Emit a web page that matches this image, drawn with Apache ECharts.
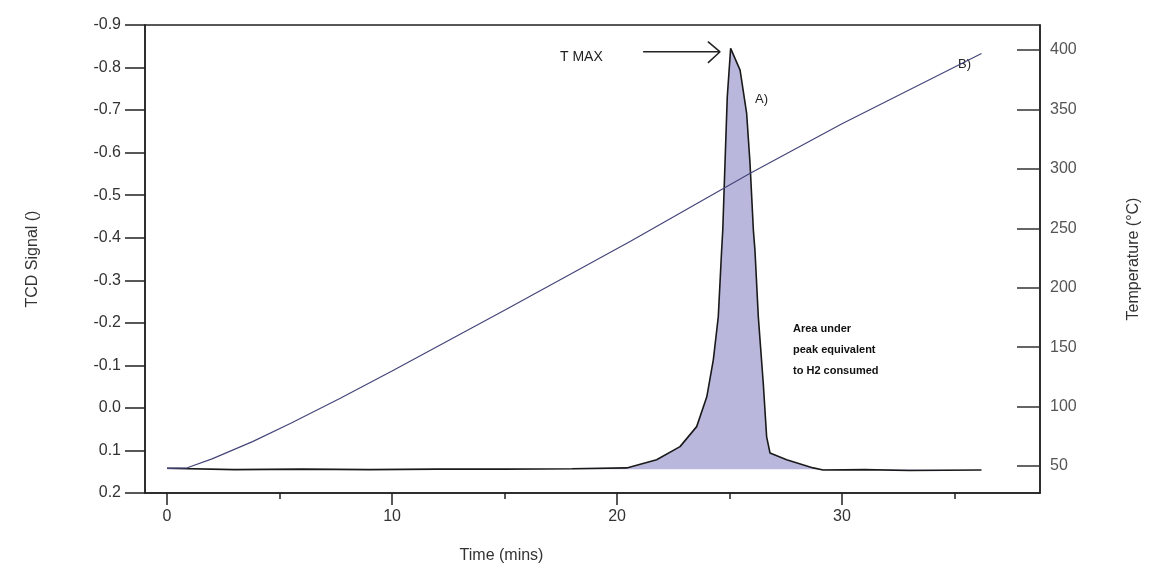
<!DOCTYPE html>
<html>
<head>
<meta charset="utf-8">
<script src="https://cdn.jsdelivr.net/npm/echarts@6/dist/echarts.min.js"></script>
<style>
  html, body { margin: 0; padding: 0; background: #fff; }
  #chart { width: 1154px; height: 573px; }
</style>
</head>
<body>
<div id="chart"></div>
<script>
// TCD signal (A) - time in mins, signal (axis is inverted)
const tcdTime = [0, 3, 6, 9, 12, 15, 18, 20.43, 21.76, 22.8, 23.54, 23.99, 24.28, 24.5, 24.65, 24.7, 24.8, 24.9, 25.05,
  25.47, 25.76, 25.91, 26.06, 26.13, 26.28, 26.5, 26.65, 26.8, 27.54, 28.72, 29.16, 31, 33, 36.2]
const tcdSignal = [0.142, 0.145, 0.144, 0.145, 0.144, 0.144, 0.143, 0.141, 0.122, 0.091, 0.044, -0.026, -0.113, -0.214, -0.371, -0.418, -0.576, -0.731, -0.845,
  -0.794, -0.693, -0.576, -0.418, -0.371, -0.214, -0.058, 0.068, 0.106, 0.122, 0.141, 0.146, 0.145, 0.147, 0.146]

// temperature ramp (B)
const tempTime = [0, 0.9, 2.0, 3.8, 5.5, 7.7, 10, 15, 20.6, 25.9, 30, 36.2]
const tempValues = [48, 48.5, 56, 70.5, 86, 107, 130, 181, 239, 296, 338, 397]

// T MAX arrow (time, signal)
const arrowTime = [21.16, 24.58, 24.04, 24.58, 24.04]
const arrowSignal = [-0.837, -0.837, -0.861, -0.837, -0.811]

const xLabels = [0, 10, 20, 30]
const xMinorTicks = [5, 15, 25, 35]
const tempTicks = [50, 100, 150, 200, 250, 300, 350, 400]

const baseline = 0.144

function pairs(xs, ys) {
  return xs.map((x, i) => [x, ys[i]])
}

const font = "'Liberation Sans', Arial, sans-serif"
const narrow = "'Liberation Sans Narrow', 'Liberation Sans', Arial, sans-serif"

const myChart = echarts.init(document.getElementById('chart'))
myChart.setOption({
  animation: false,
  grid: {
    left: 145,
    right: 114,
    top: 25,
    bottom: 80,
    show: true,
    borderColor: '#222',
    borderWidth: 1.5
  },
  xAxis: [
    {
      type: 'value',
      min: -0.98,
      max: 38.8,
      name: 'Time (mins)',
      nameLocation: 'middle',
      nameGap: 55,
      nameTextStyle: { fontFamily: narrow, fontSize: 16, color: '#333', padding: [0, 182, 0, 0] },
      axisLine: { onZero: false, lineStyle: { color: '#222', width: 1.5 } },
      axisTick: { customValues: xLabels, length: 12, lineStyle: { color: '#222', width: 1.5 } },
      axisLabel: { customValues: xLabels, fontFamily: narrow, fontSize: 16, color: '#333', margin: 16 },
      splitLine: { show: false }
    },
    {
      type: 'value',
      min: -0.98,
      max: 38.8,
      position: 'bottom',
      axisLine: { show: false, onZero: false },
      axisTick: { customValues: xMinorTicks, length: 6, lineStyle: { color: '#222', width: 1.5 } },
      axisLabel: { show: false },
      splitLine: { show: false }
    }
  ],
  yAxis: [
    {
      type: 'value',
      inverse: true,
      min: -0.9,
      max: 0.2,
      interval: 0.1,
      name: 'TCD Signal ()',
      nameLocation: 'middle',
      nameGap: 104,
      nameRotate: 90,
      nameTextStyle: { fontFamily: font, fontSize: 16, color: '#333' },
      axisLine: { show: true, onZero: false, lineStyle: { color: '#222', width: 1.5 } },
      axisTick: { show: true, length: 20, lineStyle: { color: '#222', width: 1.5 } },
      axisLabel: {
        fontFamily: font, fontSize: 16, color: '#333', margin: 24,
        formatter: v => v.toFixed(1)
      },
      splitLine: { show: false }
    },
    {
      type: 'value',
      position: 'right',
      min: 27.3,
      max: 421,
      name: 'Temperature (°C)',
      nameLocation: 'middle',
      nameGap: 86,
      nameRotate: 90,
      nameTextStyle: { fontFamily: font, fontSize: 16, color: '#333', padding: [0, 0, 18, 0] },
      axisLine: { show: true, onZero: false, lineStyle: { color: '#222', width: 1.5 } },
      axisTick: { show: true, inside: true, length: 23, customValues: tempTicks, lineStyle: { color: '#333', width: 1.5 } },
      axisLabel: { customValues: tempTicks, fontFamily: font, fontSize: 16, color: '#555', margin: 10 },
      splitLine: { show: false }
    }
  ],
  series: [
    {
      name: 'A',
      type: 'line',
      data: pairs(tcdTime, tcdSignal),
      showSymbol: false,
      lineStyle: { color: '#1a1a1a', width: 1.6 },
      areaStyle: { color: '#b9b8dc', opacity: 1, origin: baseline },
      z: 2
    },
    {
      name: 'B',
      type: 'line',
      yAxisIndex: 1,
      data: pairs(tempTime, tempValues),
      showSymbol: false,
      lineStyle: { color: '#45457a', width: 1.2 },
      z: 3
    },
    {
      name: 'arrow',
      type: 'line',
      data: pairs(arrowTime, arrowSignal),
      showSymbol: false,
      lineStyle: { color: '#222', width: 1.5 },
      z: 4
    }
  ],
  graphic: [
    { type: 'text', left: 560, top: 50, style: { text: 'T MAX', font: '14px ' + narrow, fill: '#222' } },
    { type: 'text', left: 755, top: 93, style: { text: 'A)', font: '13px ' + narrow, fill: '#222' } },
    { type: 'text', left: 958, top: 58, style: { text: 'B)', font: '13px ' + narrow, fill: '#222' } },
    {
      type: 'text', left: 793, top: 318,
      style: {
        text: 'Area under\npeak equivalent\nto H2 consumed',
        font: 'bold 11px ' + narrow, fill: '#111', lineHeight: 21
      }
    }
  ]
})
</script>
</body>
</html>
